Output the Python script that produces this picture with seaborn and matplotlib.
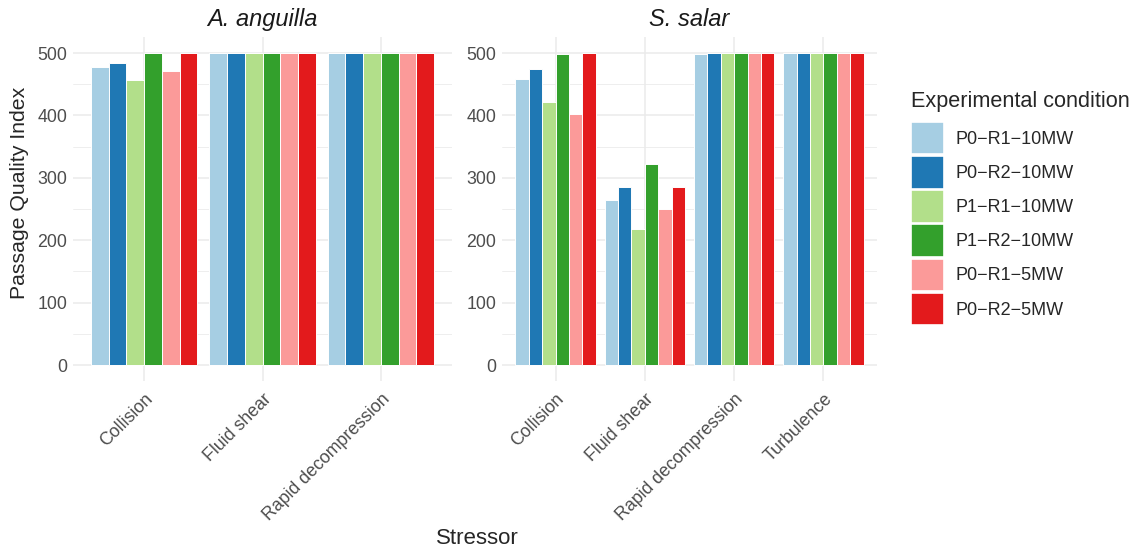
import pandas as pd
import matplotlib.pyplot as plt
from matplotlib.patches import Patch
from matplotlib.ticker import MultipleLocator
import seaborn as sns

sns.set_theme(style="whitegrid")
plt.rcParams['font.family'] = ['Liberation Sans', 'DejaVu Sans']

#%% data
conditions = ["P0−R1−10MW", "P0−R2−10MW", "P1−R1−10MW",
              "P1−R2−10MW", "P0−R1−5MW", "P0−R2−5MW"]
colors = ["#A6CEE3", "#1F78B4", "#B2DF8A", "#33A02C", "#FB9A99", "#E31A1C"]

species = ["A. anguilla", "S. salar"]

aa_stressors = ["Collision", "Fluid shear", "Rapid decompression"]
aa_collision = [478, 484, 457, 500, 471, 500]
aa_fluid_shear = [500, 500, 500, 500, 500, 500]
aa_rapid_decomp = [500, 500, 500, 500, 500, 500]

ss_stressors = ["Collision", "Fluid shear", "Rapid decompression", "Turbulence"]
ss_collision = [458, 474, 421, 499, 402, 500]
ss_fluid_shear = [265, 285, 218, 322, 250, 285]
ss_rapid_decomp = [498, 500, 500, 500, 500, 500]
ss_turbulence = [500, 500, 500, 500, 500, 500]

#%%
def to_long(stressors, values):
    rows = []
    for s, vals in zip(stressors, values):
        for c, v in zip(conditions, vals):
            rows.append({'Stressor': s, 'Condition': c, 'PQI': v})
    return pd.DataFrame(rows)

df_aa = to_long(aa_stressors, [aa_collision, aa_fluid_shear, aa_rapid_decomp])
df_ss = to_long(ss_stressors, [ss_collision, ss_fluid_shear,
                               ss_rapid_decomp, ss_turbulence])

#%%
fig = plt.figure(figsize=(11.38, 5.51), dpi=100)
ax1 = fig.add_axes([73 / 1138, 1 - 380.6 / 551, 379 / 1138, 343.2 / 551])
ax2 = fig.add_axes([502 / 1138, 1 - 380.6 / 551, 375 / 1138, 343.2 / 551])

grid_col = "#EBEBEB"
for ax, df, name, stressors in [(ax1, df_aa, species[0], aa_stressors),
                                (ax2, df_ss, species[1], ss_stressors)]:
    sns.barplot(data=df, x='Stressor', y='PQI', hue='Condition',
                hue_order=conditions, palette=colors, width=0.9,
                edgecolor='white', linewidth=0.7, saturation=1,
                legend=False, ax=ax, zorder=3)
    ax.set_facecolor('white')
    ax.set_ylim(-25, 525)
    ax.set_xlim(-0.6, len(stressors) - 0.4)
    ax.yaxis.set_major_locator(MultipleLocator(100))
    ax.yaxis.set_minor_locator(MultipleLocator(50))
    ax.grid(which='major', color=grid_col, linewidth=1.1, zorder=0)
    ax.grid(which='minor', axis='y', color=grid_col, linewidth=0.6, zorder=0)
    ax.set_axisbelow(True)
    for sp in ax.spines.values():
        sp.set_visible(False)
    ax.tick_params(axis='both', which='both', length=0, labelsize=12.8,
                   labelcolor='#4D4D4D')
    ax.tick_params(axis='x', pad=7)
    ax.tick_params(axis='y', pad=4)
    ax.set_xticks(range(len(stressors)))
    ax.set_xticklabels(stressors, rotation=45, ha='right', va='top',
                       rotation_mode='anchor')
    ax.set_xlabel('')
    ax.set_ylabel('')
    ax.set_title(name, fontsize=17, style='italic', pad=8, color='#1A1A1A')

fig.text(20 / 1138, 1 - 193 / 551, 'Passage Quality Index', rotation=90,
         ha='center', va='center', fontsize=15.3)
fig.text(477 / 1138, 1 - 538 / 551, 'Stressor', ha='center', va='center',
         fontsize=16)

# legend: title drawn separately so the gap above the keys matches
fig.text(911 / 1138, 1 - 101 / 551, 'Experimental condition', ha='left',
         va='center', fontsize=15.6)
handles = [Patch(facecolor=c, edgecolor='white', linewidth=1.2) for c in colors]
leg = fig.legend(handles, conditions,
                 loc='upper left', bbox_to_anchor=(911 / 1138, 1 - 122 / 551),
                 frameon=False, fontsize=13,
                 handlelength=1.8, handleheight=2.38, labelspacing=0.1,
                 handletextpad=0.65, borderaxespad=0, borderpad=0)

plt.savefig('out.png', dpi=100)
